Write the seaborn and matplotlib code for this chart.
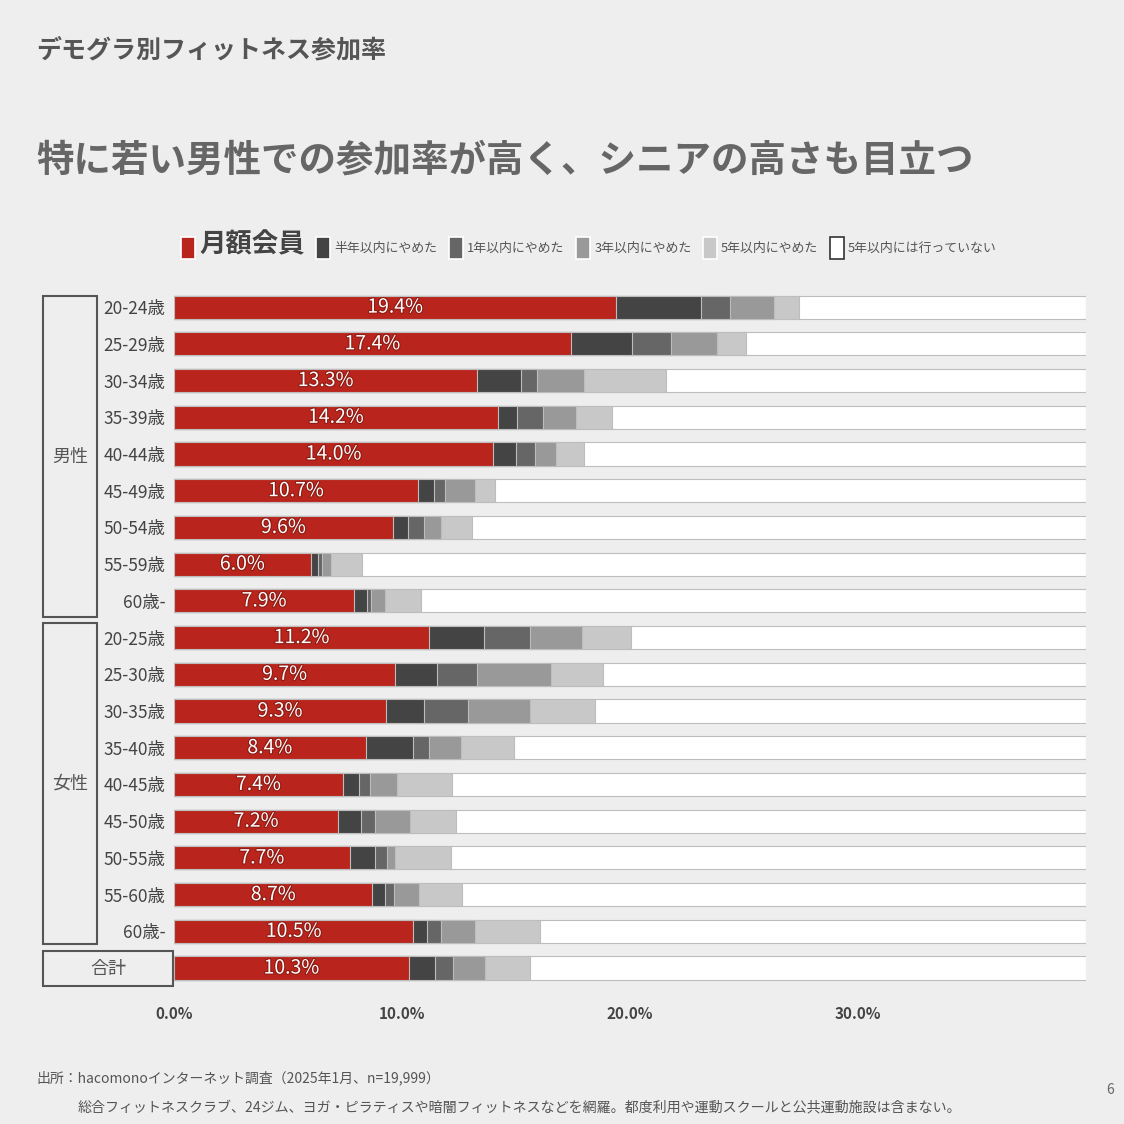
import matplotlib
matplotlib.use("Agg")
import matplotlib.pyplot as plt
import matplotlib.patheffects as pe
from matplotlib.patches import Patch, Rectangle
from matplotlib.transforms import blended_transform_factory
import seaborn as sns
import pandas as pd

# ---- data (percent) ----
groups = ["男性"] * 9 + ["女性"] * 9 + ["合計"]
ages = ["20-24歳", "25-29歳", "30-34歳", "35-39歳", "40-44歳", "45-49歳", "50-54歳", "55-59歳", "60歳-",
        "20-25歳", "25-30歳", "30-35歳", "35-40歳", "40-45歳", "45-50歳", "50-55歳", "55-60歳", "60歳-",
        ""]
monthly = [19.4, 17.4, 13.3, 14.2, 14.0, 10.7, 9.6, 6.0, 7.9,
           11.2, 9.7, 9.3, 8.4, 7.4, 7.2, 7.7, 8.7, 10.5, 10.3]
quit_half = [3.7, 2.7, 1.9, 0.85, 1.0, 0.7, 0.65, 0.3, 0.55,
             2.4, 1.85, 1.65, 2.1, 0.7, 1.0, 1.1, 0.55, 0.6, 1.15]
quit_1y = [1.3, 1.7, 0.7, 1.15, 0.85, 0.5, 0.7, 0.2, 0.2,
           2.0, 1.75, 1.95, 0.7, 0.5, 0.6, 0.55, 0.4, 0.6, 0.8]
quit_3y = [1.9, 2.0, 2.1, 1.45, 0.9, 1.3, 0.75, 0.4, 0.6,
           2.3, 3.25, 2.7, 1.4, 1.2, 1.55, 0.35, 1.1, 1.5, 1.4]
quit_5y = [1.1, 1.3, 3.6, 1.55, 1.25, 0.9, 1.35, 1.35, 1.6,
           2.15, 2.25, 2.85, 2.3, 2.4, 2.0, 2.45, 1.9, 2.85, 1.95]
XMAX = 40  # axis end; the "not visited" segment fills up to here

series_names = ["月額会員", "半年以内にやめた", "1年以内にやめた", "3年以内にやめた", "5年以内にやめた", "5年以内には行っていない"]
colors = ["#B9251C", "#444444", "#666666", "#999999", "#C8C8C8", "#FFFFFF"]

df = pd.DataFrame({"key": [f"{g}_{i}" for i, g in enumerate(groups)],
                   "age": ages, "monthly": monthly, "half": quit_half,
                   "y1": quit_1y, "y3": quit_3y, "y5": quit_5y})
df["c1"] = df["monthly"]
df["c2"] = df["c1"] + df["half"]
df["c3"] = df["c2"] + df["y1"]
df["c4"] = df["c3"] + df["y3"]
df["c5"] = df["c4"] + df["y5"]
df["c6"] = XMAX

BG = "#EEEEEE"
plt.rcParams["font.family"] = ["Noto Sans CJK JP", "DejaVu Sans"]

fig = plt.figure(figsize=(11.24, 11.24), dpi=100, facecolor=BG)
ax = fig.add_axes([174 / 1124, 0.1224, 912 / 1124, 0.6207])
ax.set_facecolor(BG)

# stacked bars: draw cumulative totals, longest first
for col, c in zip(["c6", "c5", "c4", "c3", "c2", "c1"], colors[::-1]):
    sns.barplot(data=df, x=col, y="key", orient="h", color=c, width=0.63,
                edgecolor="#BDBDBD", linewidth=0.8, saturation=1, ax=ax)

ax.set_xlim(0, XMAX)
ax.set_ylim(18.5, -0.5)
ax.set_xlabel("")
ax.set_ylabel("")
for s in ax.spines.values():
    s.set_visible(False)
ax.set_xticks([0, 10, 20, 30])
ax.set_xticklabels(["0.0%", "10.0%", "20.0%", "30.0%"], fontsize=11, fontweight="bold", color="#444444")
ax.set_yticks(range(len(ages)))
ax.set_yticklabels(ages, fontsize=12.5, color="#444444")
ax.tick_params(axis="x", length=0, pad=14)
ax.tick_params(axis="y", length=0, pad=6)

# value labels in the red segment
for i, v in enumerate(monthly):
    ax.text(v / 2, i, f"{v:.1f}%", ha="center", va="center", color="white", fontsize=14,
            path_effects=[pe.withStroke(linewidth=1.6, foreground="#8E1B14")])

# group boxes
tr = blended_transform_factory(fig.transFigure, ax.transData)
boxes = [("男性", 43, 97, -0.30, 8.44), ("女性", 43, 97, 8.60, 17.35), ("合計", 43, 173, 17.54, 18.49)]
for name, x0, x1, y0, y1 in boxes:
    ax.add_patch(Rectangle((x0 / 1124, y0), (x1 - x0) / 1124, y1 - y0, transform=tr,
                           fill=False, edgecolor="#555555", linewidth=1.5, clip_on=False))
    ax.text((x0 + x1) / 2 / 1124, (y0 + y1) / 2, name, transform=tr, ha="center", va="center",
            fontsize=13, color="#555555")

# legend
handles = [Patch(facecolor=c, edgecolor="#333333" if c == "#FFFFFF" else "white", linewidth=1.2)
           for c in colors]
leg = fig.legend(handles, series_names, loc="center", bbox_to_anchor=(0.524, 0.782), ncol=6,
                 frameon=False, fontsize=9.3, handlelength=1.05, handleheight=2.2,
                 handletextpad=0.35, columnspacing=0.9, labelcolor="#555555")
leg.get_texts()[0].set_fontsize(19)
leg.get_texts()[0].set_fontweight("bold")
leg.get_texts()[0].set_color("#444444")

# titles and notes
fig.text(36 / 1124, 1 - 50 / 1124, "デモグラ別フィットネス参加率", fontsize=18, fontweight="bold",
         color="#555555", va="center", ha="left")
fig.text(36 / 1124, 1 - 160 / 1124, "特に若い男性での参加率が高く、シニアの高さも目立つ", fontsize=27,
         fontweight="bold", color="#666666", va="center", ha="left")
fig.text(36 / 1124, 1 - 1078 / 1124, "出所：hacomonoインターネット調査（2025年1月、n=19,999）",
         fontsize=10, color="#555555", va="center", ha="left")
fig.text(78 / 1124, 1 - 1108 / 1124,
         "総合フィットネスクラブ、24ジム、ヨガ・ピラティスや暗闇フィットネスなどを網羅。都度利用や運動スクールと公共運動施設は含まない。",
         fontsize=10.1, color="#555555", va="center", ha="left")
fig.text(1110 / 1124, 1 - 1090 / 1124, "6", fontsize=10, color="#666666", va="center", ha="center")

fig.savefig("out.png", dpi=100, facecolor=BG)
